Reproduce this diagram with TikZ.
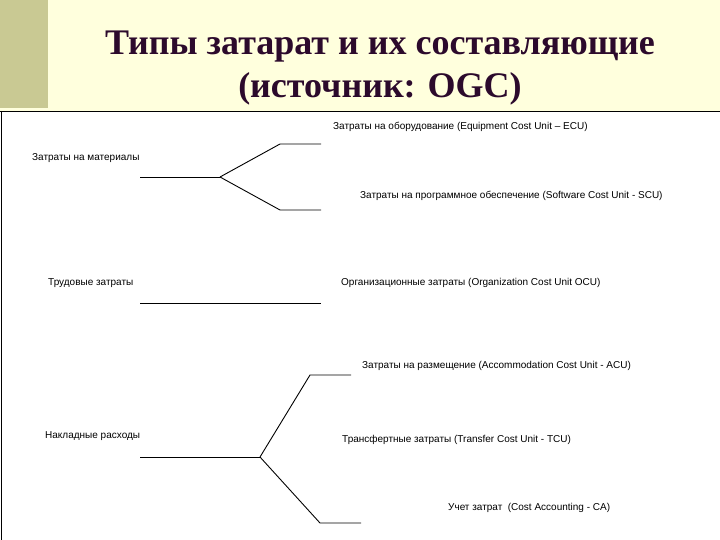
\documentclass[tikz,border=0pt]{standalone}
\usepackage{fontspec}
\setmainfont{Liberation Serif}
\newfontfamily\lbsans{Liberation Sans}
\definecolor{cream}{RGB}{255,255,221}
\definecolor{olive}{RGB}{201,201,147}
\definecolor{titlecol}{RGB}{44,10,44}
\tikzset{
  lbl/.style={font=\lbsans\fontsize{10}{12}\selectfont, inner sep=0pt, anchor=west, text=black},
  ttl/.style={font=\bfseries\fontsize{36}{43}\selectfont, text=titlecol, inner sep=0pt, align=center},
  br/.style={draw=black, line width=0.9pt, line join=miter},
}
\begin{document}
\begin{tikzpicture}[x=1pt,y=-1pt]
\useasboundingbox (0,0) rectangle (720,540);
% backgrounds
\fill[cream] (0,0) rectangle (720,111);
\fill[olive] (0,0) rectangle (48,108);
\fill[white] (0,111) rectangle (720,540);
\draw[black, line width=1.6pt] (0,111.5) -- (720,111.5);
\draw[black, line width=1.6pt] (1.5,111) -- (1.5,540);
% title
\node[ttl] (title) at (380,68) {Типы затарат и их составляющие\\(источник: OGC)};
% labels
\node[lbl] (ecu) at (333,127) {Затраты на оборудование (Equipment Cost Unit – ECU)};
\node[lbl] (mat) at (32,158) {Затраты на материалы};
\node[lbl] (scu) at (360,196) {Затраты на программное обеспечение (Software Cost Unit - SCU)};
\node[lbl] (lab) at (48,283) {Трудовые затраты};
\node[lbl] (ocu) at (341,283) {Организационные затраты (Organization Cost Unit OCU)};
\node[lbl] (acu) at (362,366) {Затраты на размещение (Accommodation Cost Unit - ACU)};
\node[lbl] (ovh) at (45,436) {Накладные расходы};
\node[lbl] (tcu) at (342,440) {Трансфертные затраты (Transfer Cost Unit - TCU)};
\node[lbl] (ca) at (448,508) {Учет затрат\ \ (Cost Accounting - CA)};
% branch coordinates
\coordinate (m0) at (140,177);
\coordinate (mf) at (220,177);
\coordinate (m1a) at (280,144);
\coordinate (m1b) at (321,144);
\coordinate (m2a) at (280,210);
\coordinate (m2b) at (321,210);
\coordinate (l0) at (140,303);
\coordinate (l1) at (321,303);
\coordinate (o0) at (140,457);
\coordinate (of) at (260,457);
\coordinate (o1a) at (310,375);
\coordinate (o1b) at (351,375);
\coordinate (o2a) at (320,523);
\coordinate (o2b) at (361,523);
% branches
\draw[br] (m0) -- (mf);
\draw[br] (mf) -- (m1a) -- (m1b);
\draw[br] (mf) -- (m2a) -- (m2b);
\draw[br] (l0) -- (l1);
\draw[br] (o0) -- (of);
\draw[br] (of) -- (o1a) -- (o1b);
\draw[br] (of) -- (o2a) -- (o2b);
\end{tikzpicture}
\end{document}
